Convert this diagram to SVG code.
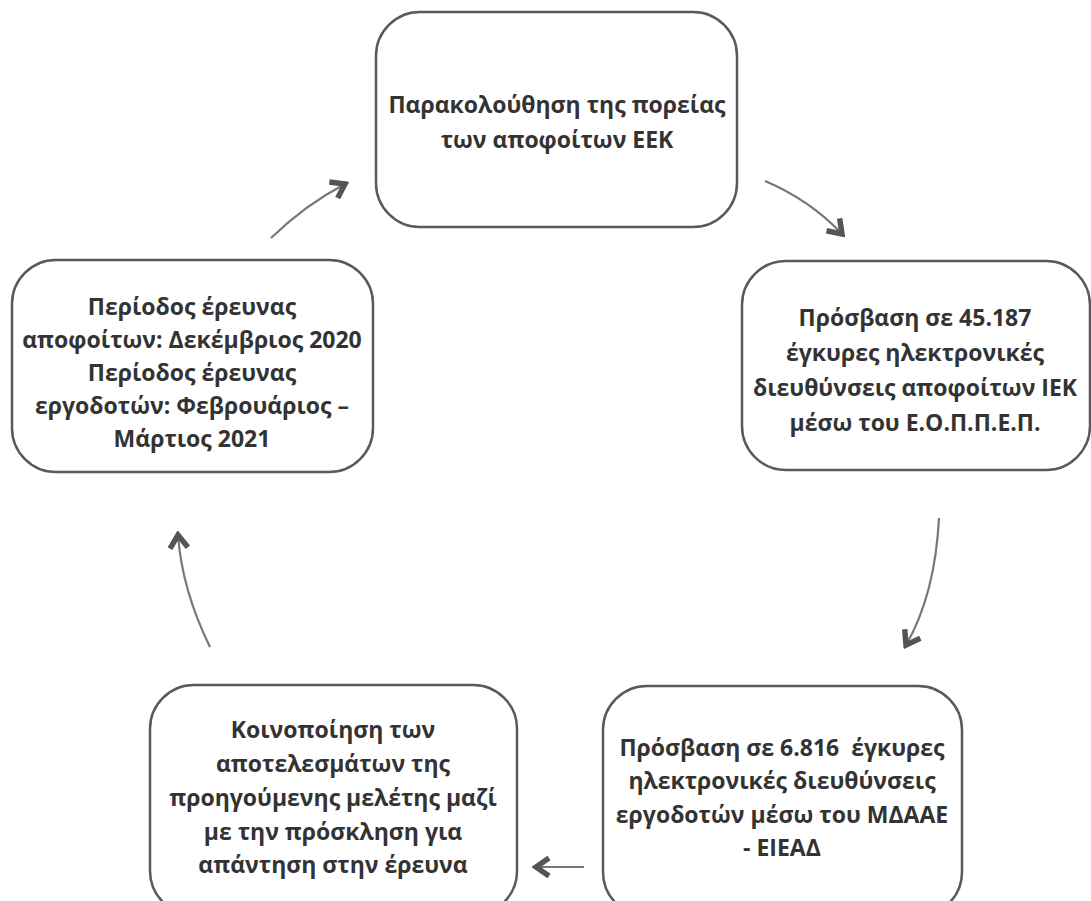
<svg xmlns="http://www.w3.org/2000/svg" width="1091" height="901" viewBox="0 0 1091 901">
<style>
.box{fill:#fff;stroke:#5a5a5a;stroke-width:2.5}
.t{font-family:"Open Sans","Noto Sans","DejaVu Sans",sans-serif;font-weight:bold;font-size:23px;fill:#333;text-anchor:middle}
.c{fill:none;stroke:#777;stroke-width:2.2}
</style>
<defs>
<marker id="ah" markerUnits="userSpaceOnUse" viewBox="-20 -14 24 28" markerWidth="24" markerHeight="28" refX="0" refY="0" orient="auto">
<path d="M-13,-9 L0,0 L-13,9" fill="none" stroke="#555" stroke-width="5.5" stroke-linejoin="miter"/>
</marker>
</defs>
<rect width="1091" height="901" fill="#fff"/>
<g id="connectors">
<path class="c" d="M271,238 Q305,205 345,184" marker-end="url(#ah)"/>
<path class="c" d="M765,181 Q810,200 842,234" marker-end="url(#ah)"/>
<path class="c" d="M939,518 Q935,595 906,645" marker-end="url(#ah)"/>
<path class="c" d="M584,867 L536,867" marker-end="url(#ah)"/>
<path class="c" d="M210,647 Q182,590 178,535" marker-end="url(#ah)"/>
</g>
<g id="n1">
<rect class="box" x="376" y="12" width="361" height="215" rx="44"/>
<text class="t" x="557" y="113">Παρακολούθηση της πορείας</text>
<text class="t" x="557" y="148">των αποφοίτων ΕΕΚ</text>
</g>
<g id="n2">
<rect class="box" x="742" y="261" width="348" height="209" rx="44"/>
<text class="t" x="915" y="326">Πρόσβαση σε 45.187</text>
<text class="t" x="915" y="361">έγκυρες ηλεκτρονικές</text>
<text class="t" x="915" y="396">διευθύνσεις αποφοίτων ΙΕΚ</text>
<text class="t" x="915" y="431">μέσω του Ε.Ο.Π.Π.Ε.Π.</text>
</g>
<g id="n3">
<rect class="box" x="603" y="686" width="359" height="230" rx="44"/>
<text class="t" x="782" y="756">Πρόσβαση σε 6.816&#160; έγκυρες</text>
<text class="t" x="782" y="789">ηλεκτρονικές διευθύνσεις</text>
<text class="t" x="782" y="823">εργοδοτών μέσω του ΜΔΑΑΕ</text>
<text class="t" x="782" y="856">- ΕΙΕΑΔ</text>
</g>
<g id="n4">
<rect class="box" x="150" y="685" width="367" height="230" rx="44"/>
<text class="t" x="333" y="738">Κοινοποίηση των</text>
<text class="t" x="333" y="772">αποτελεσμάτων της</text>
<text class="t" x="333" y="806">προηγούμενης μελέτης μαζί</text>
<text class="t" x="333" y="840">με την πρόσκληση για</text>
<text class="t" x="333" y="873">απάντηση στην έρευνα</text>
</g>
<g id="n5">
<rect class="box" x="12" y="260" width="361" height="212" rx="44"/>
<text class="t" x="192" y="315">Περίοδος έρευνας</text>
<text class="t" x="192" y="348">αποφοίτων: Δεκέμβριος 2020</text>
<text class="t" x="192" y="381">Περίοδος έρευνας</text>
<text class="t" x="192" y="414">εργοδοτών: Φεβρουάριος –</text>
<text class="t" x="192" y="447">Μάρτιος 2021</text>
</g>
</svg>
